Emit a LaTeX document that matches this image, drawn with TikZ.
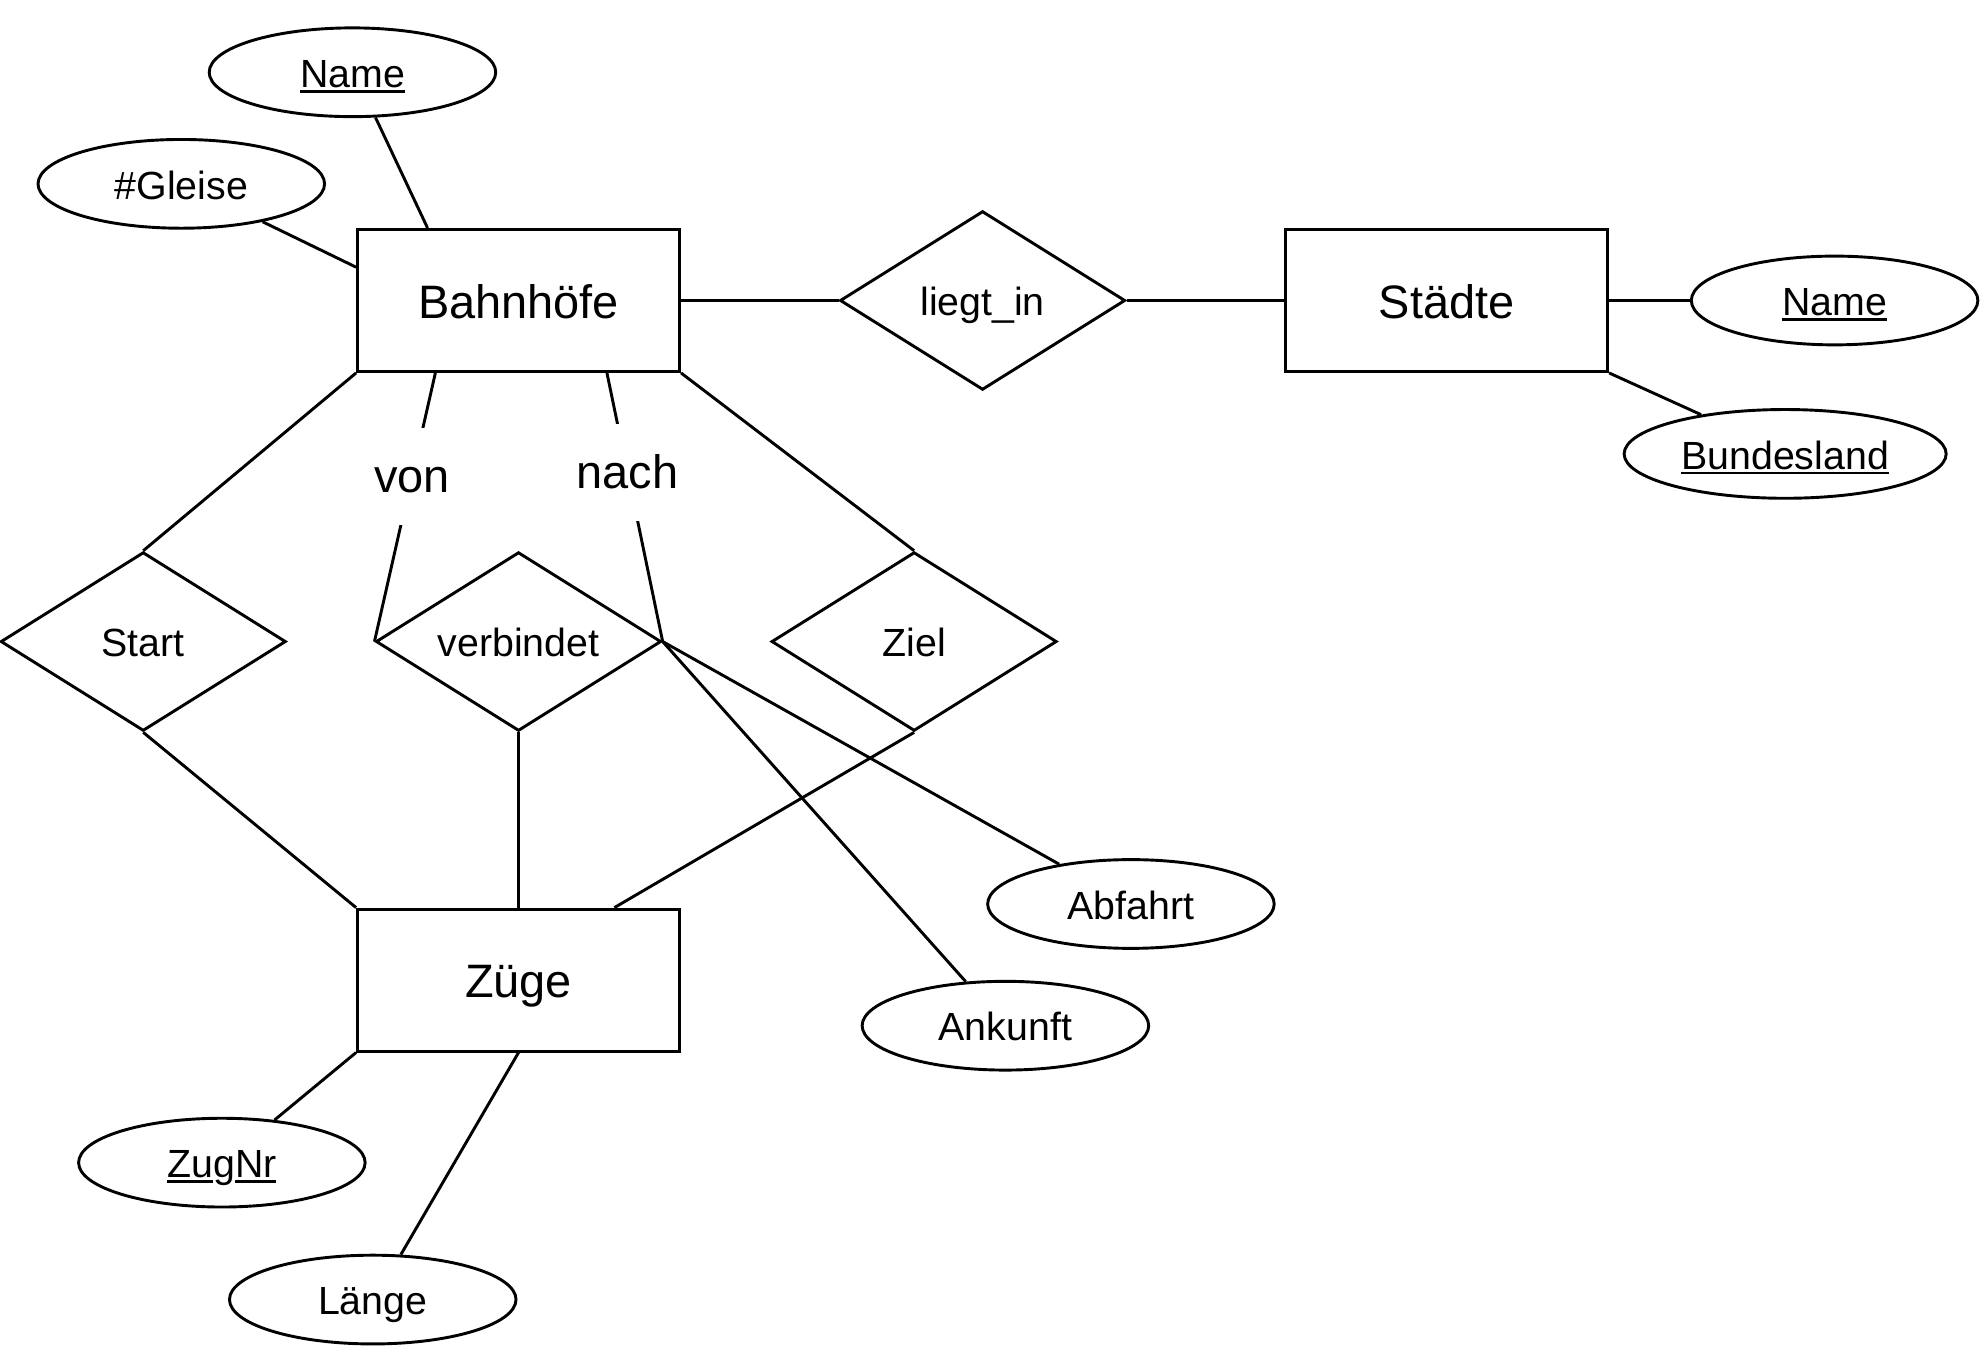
\documentclass[tikz,border=0pt]{standalone}
\usepackage{fontspec}
\setmainfont{Liberation Sans}
\usetikzlibrary{shapes.geometric,calc}
\newcommand\ulx[1]{\setbox0\hbox{#1}\rlap{\rule[-0.13em]{\wd0}{0.065em}}\box0}
\begin{document}
\begin{tikzpicture}[x=1pt,y=-1pt,line width=2.3pt,
  bigfont/.style={font=\fontsize{37}{44}\selectfont,text height=28,text depth=0},
  smallfont/.style={font=\fontsize{31}{37}\selectfont,text height=24,text depth=0},
  entity/.style={draw,rectangle,minimum width=254,minimum height=112,inner sep=0,bigfont},
  attr/.style={draw,ellipse,minimum width=226,minimum height=70,inner sep=0,smallfont},
  rel/.style={draw,diamond,aspect=1.6,minimum width=225,minimum height=141,inner sep=0,smallfont},
  role/.style={fill=white,inner xsep=4,inner ysep=0,minimum height=76,font=\fontsize{37}{44}\selectfont,text height=27,text depth=1}]
\fill[white] (0,0) rectangle (1568,1068);
\useasboundingbox (0,0) rectangle (1568,1068);
% nodes
\node[attr] (bname) at (278,57) {\ulx{Name}};
\node[attr] (gleise) at (143,145) {\#Gleise};
\node[entity] (bahn) at (409,237) {Bahnhöfe};
\node[rel] (liegt) at (775,237) {liegt\_in};
\node[entity] (staedte) at (1141,237) {Städte};
\node[attr] (sname) at (1447,237) {\ulx{Name}};
\node[attr,minimum width=254] (bland) at (1408,358) {\ulx{Bundesland}};
\node[rel] (start) at (113,506) {Start};
\node[rel] (verb) at (409,506) {verbindet};
\node[rel] (ziel) at (721,506) {Ziel};
\node[entity] (zuege) at (409,773) {Züge};
\node[attr] (abf) at (892,713) {Abfahrt};
\node[attr] (ank) at (793,809) {Ankunft};
\node[attr] (zugnr) at (175,917) {\ulx{Zu}g\ulx{Nr}};
\node[attr] (laenge) at (294,1025) {Länge};
% connectors
\draw (bname.-63) -- ($(bahn.north west)!0.22!(bahn.north east)$);
\draw (gleise.-25) -- ($(bahn.north west)!0.27!(bahn.south west)$);
\draw (bahn.east) -- (liegt.west);
\draw (liegt.east) -- (staedte.west);
\draw (staedte.east) -- (sname.west);
\draw (staedte.south east) -- (bland.155);
\draw (bahn.south west) -- (start.north);
\draw (start.south) -- (zuege.north west);
\draw ($(bahn.south west)!0.244!(bahn.south east)$) -- node[role,pos=0.385]{von} (verb.west);
\draw ($(bahn.south west)!0.772!(bahn.south east)$) -- node[role,pos=0.37]{nach} (verb.east);
\draw (bahn.south east) -- (ziel.north);
\draw (ziel.south) -- ($(zuege.north west)!0.795!(zuege.north east)$);
\draw (verb.south) -- (zuege.north);
\draw (verb.east) -- (abf.151);
\draw (verb.east) -- (ank.132);
\draw (zuege.south west) -- (zugnr.39);
\draw (zuege.south) -- (laenge.58);
\end{tikzpicture}
\end{document}
